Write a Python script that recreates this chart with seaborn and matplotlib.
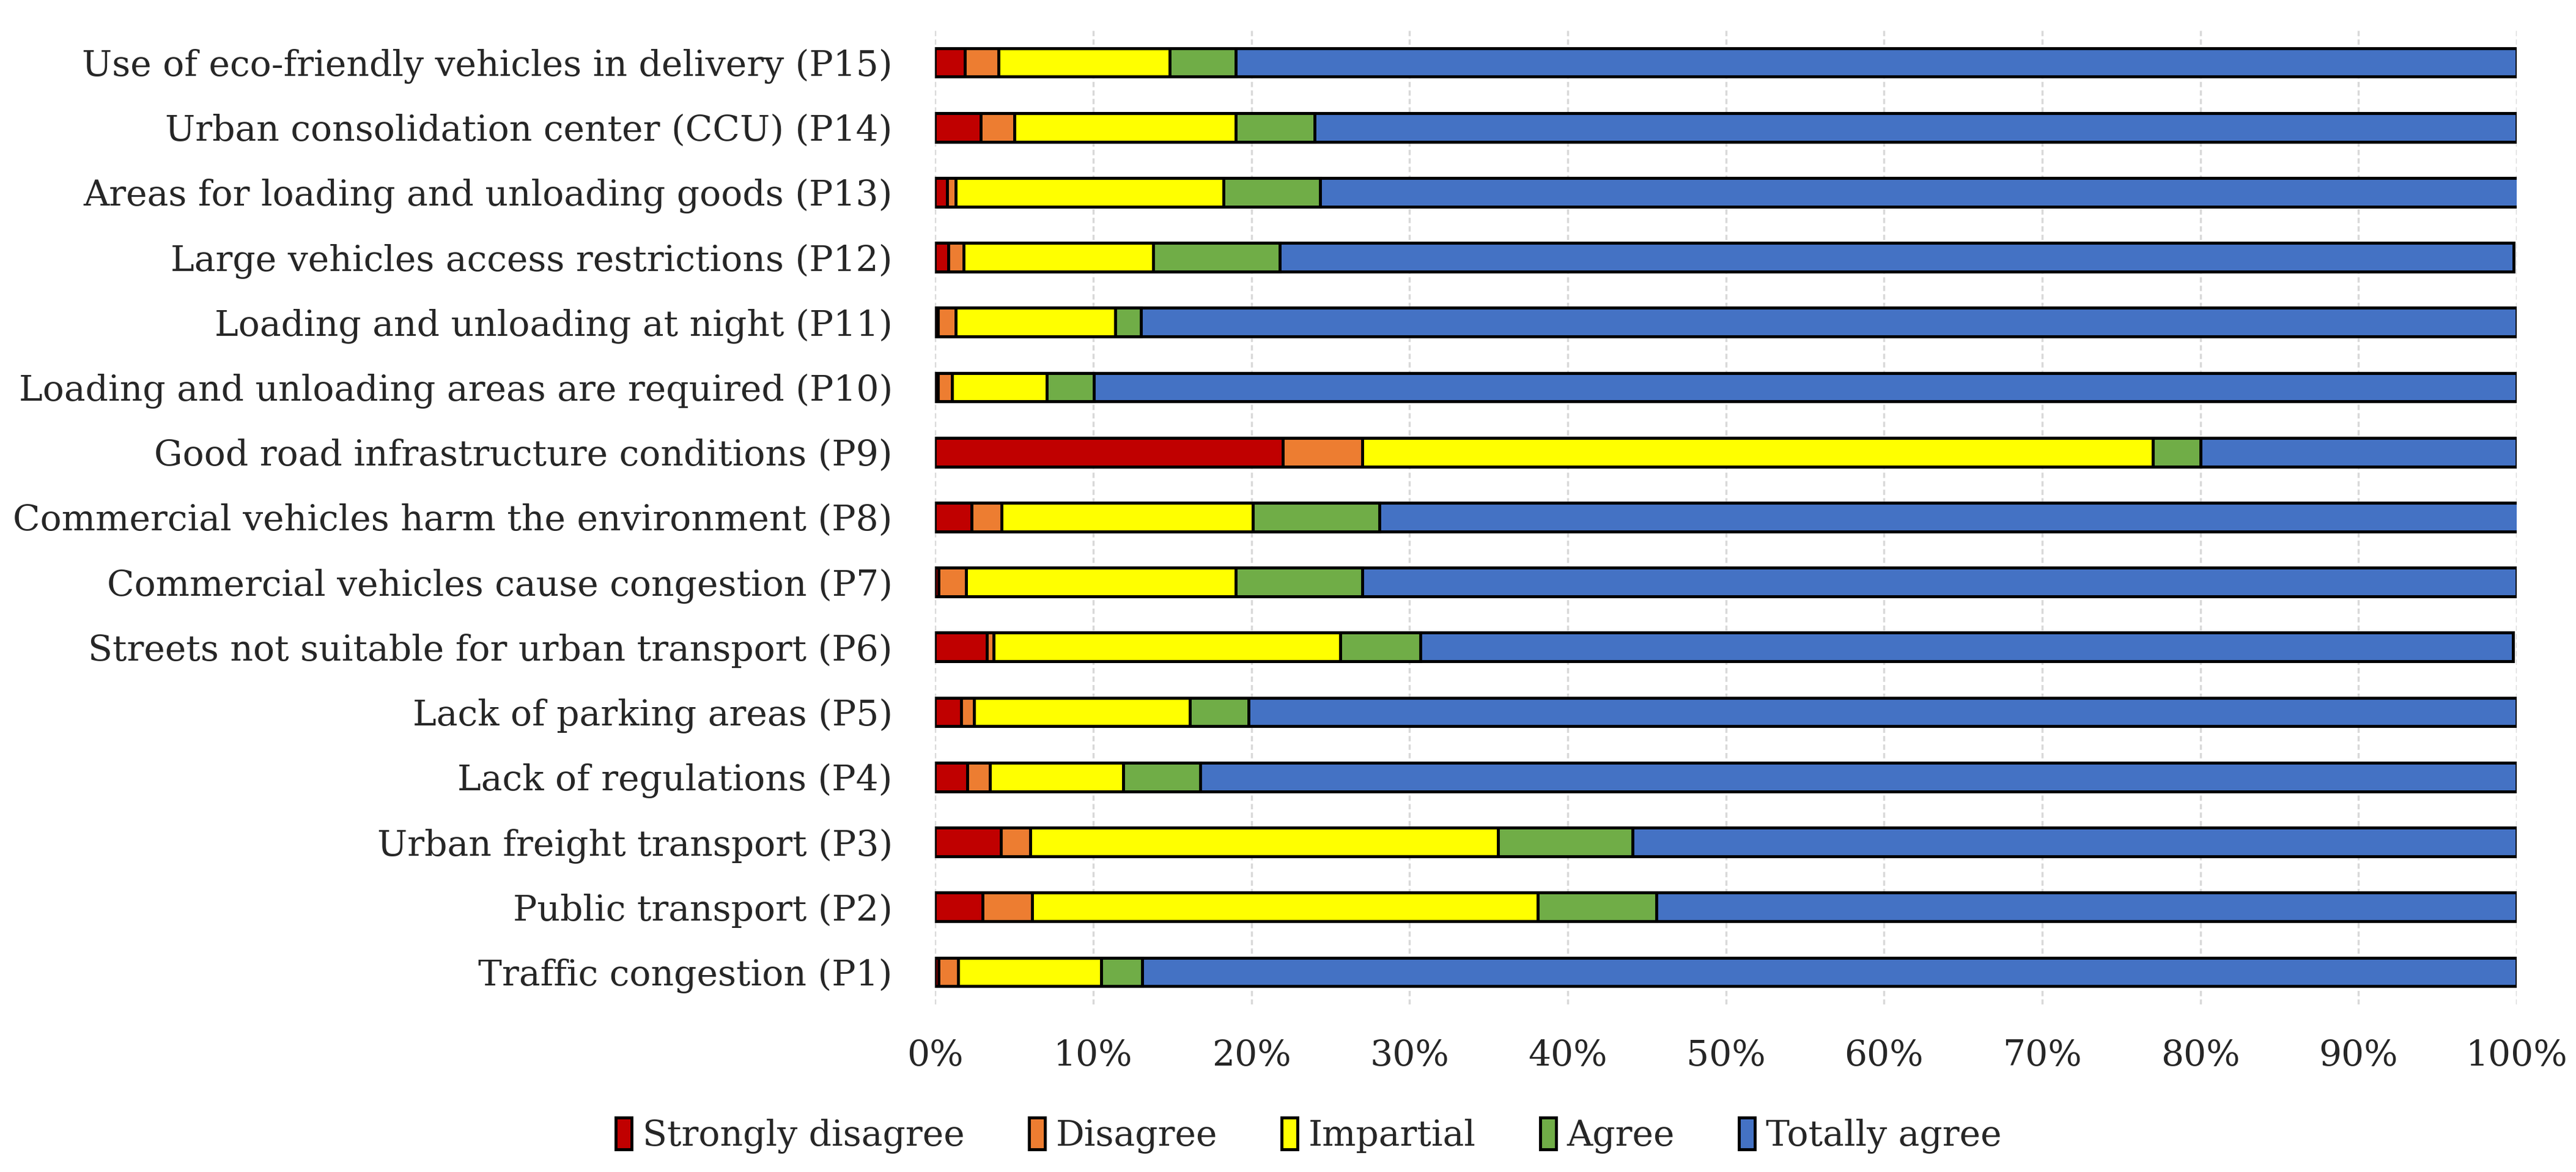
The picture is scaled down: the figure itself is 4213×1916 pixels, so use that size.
import numpy as np
import pandas as pd
import matplotlib
matplotlib.use("Agg")
import matplotlib.pyplot as plt
import seaborn as sns
from matplotlib.patches import Patch

categories = [
    "Use of eco-friendly vehicles in delivery (P15)",
    "Urban consolidation center (CCU) (P14)",
    "Areas for loading and unloading goods (P13)",
    "Large vehicles access restrictions (P12)",
    "Loading and unloading at night (P11)",
    "Loading and unloading areas are required (P10)",
    "Good road infrastructure conditions (P9)",
    "Commercial vehicles harm the environment (P8)",
    "Commercial vehicles cause congestion (P7)",
    "Streets not suitable for urban transport (P6)",
    "Lack of parking areas (P5)",
    "Lack of regulations (P4)",
    "Urban freight transport (P3)",
    "Public transport (P2)",
    "Traffic congestion (P1)",
]

strongly_disagree = [1.9, 2.9, 0.75, 0.85, 0.2, 0.17, 22.0, 2.3, 0.22, 3.27, 1.66, 2.03, 4.18, 3.0, 0.22]
disagree          = [2.1, 2.1, 0.55, 0.95, 1.1, 0.9, 5.0, 1.9, 1.74, 0.43, 0.82, 1.43, 1.82, 3.14, 1.22]
impartial         = [10.85, 14.0, 16.95, 12.0, 10.1, 5.98, 50.0, 15.9, 17.04, 21.9, 13.62, 8.44, 29.6, 31.96, 9.06]
agree             = [4.15, 5.0, 6.1, 8.0, 1.6, 3.0, 3.0, 8.0, 8.0, 5.1, 3.7, 4.85, 8.5, 7.5, 2.6]
totally_agree     = [81.0, 76.0, 75.75, 78.0, 87.0, 89.95, 20.0, 72.0, 73.0, 69.05, 80.2, 83.25, 55.9, 54.4, 86.9]

levels = ["Strongly disagree", "Disagree", "Impartial", "Agree", "Totally agree"]
colors = ["#C00000", "#ED7D31", "#FFFF00", "#70AD47", "#4472C4"]
xticks = [0, 10, 20, 30, 40, 50, 60, 70, 80, 90, 100]
xticklabels = [f"{v}%" for v in xticks]

df = pd.DataFrame({
    levels[0]: strongly_disagree,
    levels[1]: disagree,
    levels[2]: impartial,
    levels[3]: agree,
    levels[4]: totally_agree,
}, index=categories)
cum = df.cumsum(axis=1)

sns.set_theme(style="white")
plt.rcParams["font.family"] = ["DejaVu Serif"]
FS = 42

fig = plt.figure(figsize=(42.13, 19.16), dpi=100)
ax = fig.add_axes([0.363, 0.143, 0.614, 0.8315])

for lvl, col in reversed(list(zip(levels, colors))):
    sns.barplot(x=cum[lvl].values, y=categories, order=categories, color=col,
                saturation=1, edgecolor="black", linewidth=3.5, width=0.44,
                orient="h", errorbar=None, ax=ax)

ax.set_xlim(0, 100)
ax.set_ylim(14.5, -0.5)
ax.set_xticks(xticks)
ax.set_xticklabels(xticklabels)
ax.set_axisbelow(True)
ax.xaxis.grid(True, color="#d9d9d9", linestyle=(0, (2.5, 1.5)), linewidth=2.5)
ax.yaxis.grid(False)
for s in ax.spines.values():
    s.set_visible(False)
ax.set_xlabel("")
ax.set_ylabel("")
ax.tick_params(axis="x", length=0, labelsize=FS, pad=40)
ax.tick_params(axis="y", length=0, labelsize=FS, pad=50)

handles = [Patch(facecolor=c, edgecolor="black", linewidth=3.5) for c in colors]
fig.legend(handles, levels, loc="center", bbox_to_anchor=(0.508, 0.031), ncol=5,
           frameon=False, fontsize=FS, handlelength=0.45, handleheight=1.0,
           handletextpad=0.3, columnspacing=1.8)

fig.savefig("out.png", dpi=100)
